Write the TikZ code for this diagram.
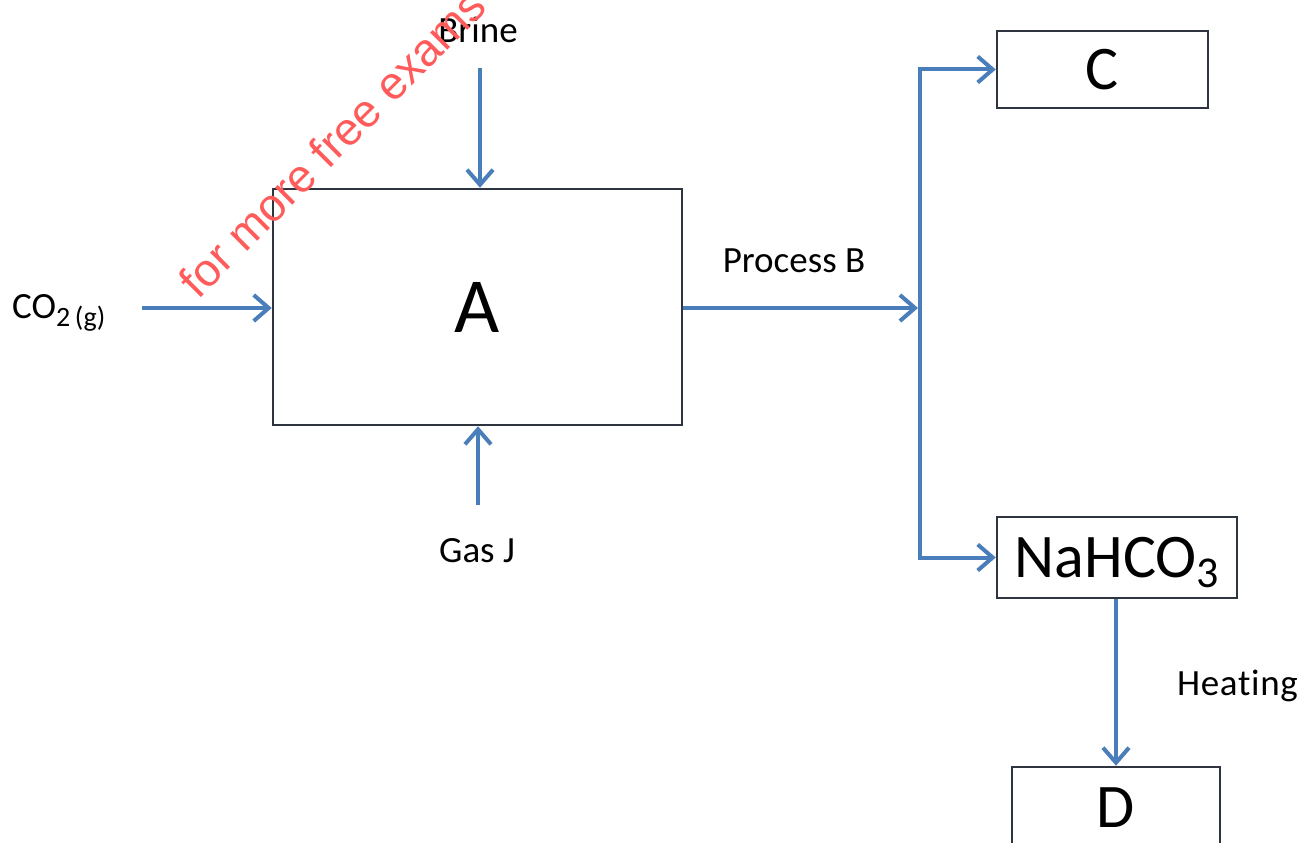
\documentclass[tikz,border=0pt]{standalone}
\usepackage{fontspec}
\setmainfont{Carlito}
\newfontfamily\wmfont{Liberation Sans}
\usetikzlibrary{arrows.meta}
\definecolor{flow}{HTML}{4A7EBB}
\definecolor{boxline}{HTML}{2E3440}
\definecolor{wmred}{HTML}{FF5B5B}
\begin{document}
\begin{tikzpicture}[x=1pt,y=-1pt,
  flowline/.style={draw=flow, line width=4pt},
  flowarrow/.style={flowline, -{Straight Barb[length=15pt,width=26pt]}},
  blk/.style={draw=boxline, line width=2.5pt, rectangle, inner sep=0pt, fill=white, text depth=0pt},
  lbl/.style={font=\fontsize{37}{40}\selectfont, inner sep=0pt, anchor=base},
  bigtxt/.style={font=\fontsize{62}{66}\selectfont},
  hugetxt/.style={font=\fontsize{78}{80}\selectfont},
  wmark/.style={font=\wmfont\fontsize{46}{48}\selectfont, text=wmred, rotate=45, inner sep=0pt}]
\useasboundingbox (0,0) rectangle (1310,843);
\clip (0,0) rectangle (1310,843);
\fill[white] (0,0) rectangle (1310,843);

% boxes
\node[blk, hugetxt, minimum width=409pt, minimum height=236pt] (A) at (477.5,307) {A};
\node[blk, bigtxt, minimum width=211pt, minimum height=77pt] (C) at (1102.5,69.5) {C};
\node[blk, bigtxt, minimum width=240pt, minimum height=81pt] (N) at (1117,557.5) {NaHCO\raisebox{-10pt}{\fontsize{44}{46}\selectfont 3}};
\node[blk, bigtxt, minimum width=208pt, minimum height=82pt] (D) at (1116,808) {D};

% labels
\node[lbl] (brine) at (478,43) {Brine};
\node[lbl] (gasj) at (477,562) {Gas J};
\node[lbl] (procb) at (794,272) {Process B};
\node[lbl, anchor=base west] (heat) at (1177,695) {H\kern0.6pt e\kern0.6pt a\kern0.6pt t\kern0.6pt i\kern0.6pt n\kern0.6pt g};
\node[lbl, anchor=base west] (co2) at (12,318) {CO\raisebox{-8pt}{\fontsize{28}{30}\selectfont 2\,(g)}};

% connectors
\coordinate (brinestart) at (480,68);
\coordinate (gasstart) at (478,505);
\coordinate (co2start) at (142,308);
\coordinate (J) at (920,308);

\draw[flowarrow] (brinestart) -- (brinestart |- A.north);
\draw[flowarrow] (gasstart) -- (gasstart |- A.south);
\draw[flowarrow] (co2start) -- (co2start -| A.west);
\draw[flowarrow, shorten >=2pt] (J -| A.east) -- (J);
\draw[flowarrow] (J) |- (C.west);
\draw[flowarrow] (J) |- (N.west);
\draw[flowarrow] (N.south -| D.north) -- (D.north);

% watermark
\node[wmark] (wm) at (332,143) {for more free exams};
\end{tikzpicture}
\end{document}
